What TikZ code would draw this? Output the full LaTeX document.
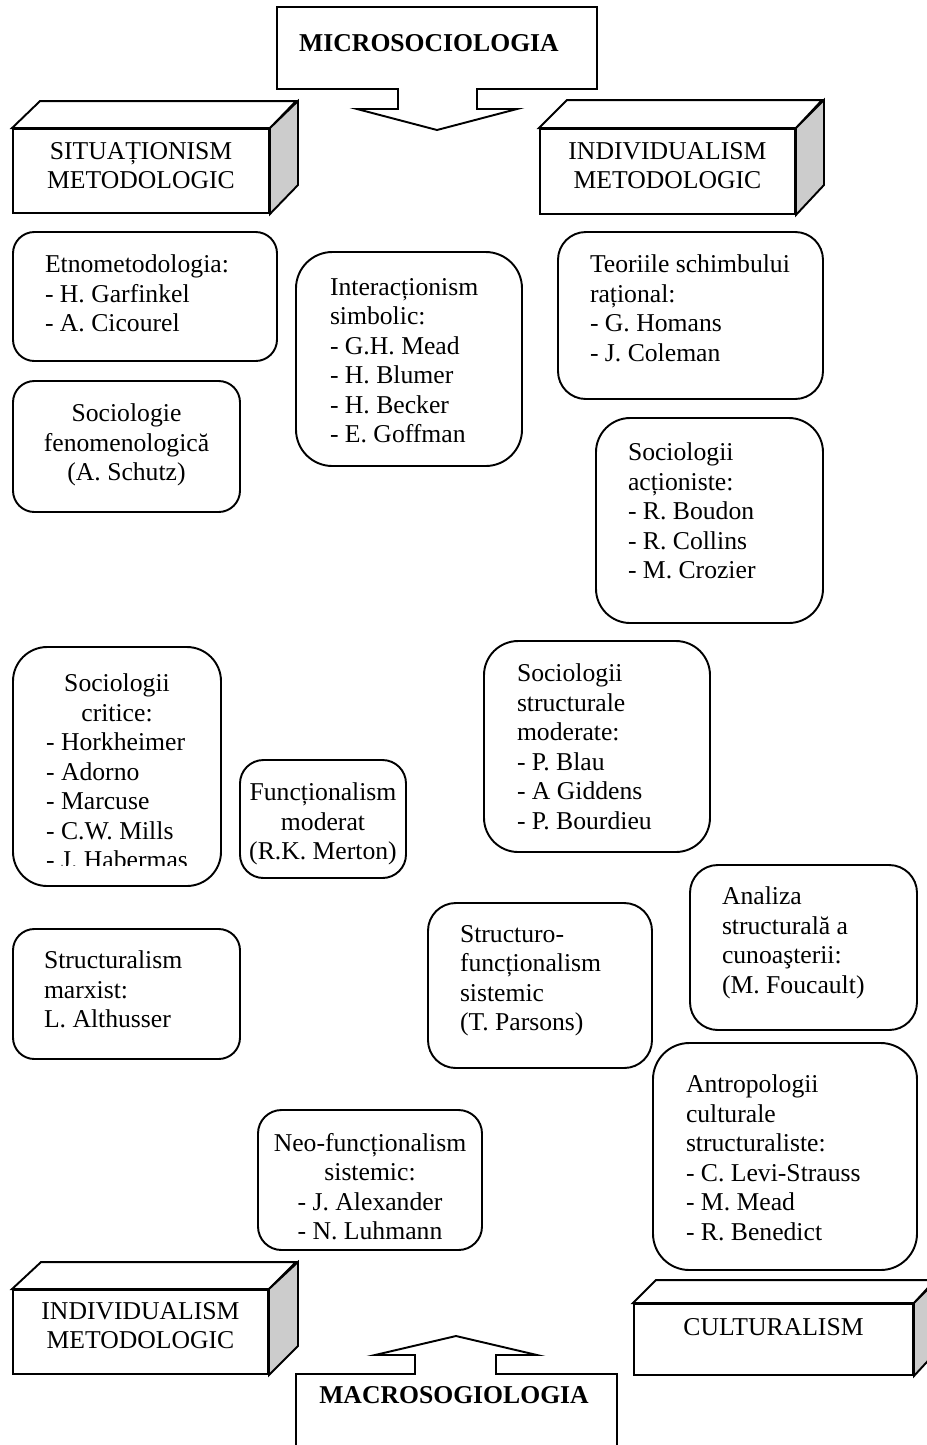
\documentclass[tikz,border=0pt]{standalone}
\usepackage{fontspec}
\setmainfont{Liberation Serif}
\usetikzlibrary{positioning, fit}

\newdimen\upx
\upx=0.4676pt
\newcommand{\boxfont}{\fontsize{12}{13.8}\selectfont}

\begin{document}
\begin{tikzpicture}[
    x=0.4676pt, y=-0.4676pt,
    line width=0.9pt,
    rbox/.style={draw, rounded corners=#1, inner sep=0pt},
    front/.style={draw, fill=white, inner sep=0pt},
    topface/.style={draw, fill=white},
    sideface/.style={draw, fill=black!20},
    callout/.style={draw, fill=white},
    txt/.style={inner sep=0pt, align=left, font=\boxfont},
    ctxt/.style={inner sep=0pt, align=center, font=\boxfont},
    title/.style={inner sep=0pt, font=\boxfont\bfseries}
]

    \useasboundingbox (0,0) rectangle (926,1445);

    % --- MICROSOCIOLOGIA ---
    \draw[callout] (277,7) -- (597,7) -- (597,89) -- (477,89) -- (477,109) -- (517,109)
        -- (437,130) -- (357,109) -- (398,109) -- (398,89) -- (277,89) -- cycle;
    \node[title] (micro) at (429,43) {MICROSOCIOLOGIA};

    % --- 3D boxes, top ---
    \node[front, fit={(13,129) (269,213)}] (sit) {};
    \draw[topface] (sit.north west) -- ++(28,-27) -- ++(256,0) -- (sit.north east) -- cycle;
    \draw[sideface] (sit.north east) -- ++(28,-27) -- ++(0,84) -- (sit.south east) -- cycle;
    \node[ctxt, below=13\upx of sit.north] (sitT) {SITUAȚIONISM\\METODOLOGIC};

    \node[front, fit={(540,129) (795,214)}] (indtop) {};
    \draw[topface] (indtop.north west) -- ++(28,-28) -- ++(255,0) -- (indtop.north east) -- cycle;
    \draw[sideface] (indtop.north east) -- ++(28,-28) -- ++(0,85) -- (indtop.south east) -- cycle;
    \node[ctxt, below=13\upx of indtop.north] (indtopT) {INDIVIDUALISM\\METODOLOGIC};

    % --- rounded boxes ---
    \node[rbox=10pt, fit={(13,232) (277,361)}] (etno) {};
    \node[txt, below right=23\upx and 32\upx of etno.north west] (etnoT)
        {Etnometodologia:\\- H. Garfinkel\\- A. Cicourel};

    \node[rbox=10pt, fit={(13,381) (240,512)}] (fenom) {};
    \node[ctxt, below=23\upx of fenom.north] (fenomT)
        {Sociologie\\fenomenologică\\(A. Schutz)};

    \node[rbox=17pt, fit={(296,252) (522,466)}] (inter) {};
    \node[txt, below right=26\upx and 34\upx of inter.north west] (interT)
        {Interacționism\\simbolic:\\- G.H. Mead\\- H. Blumer\\- H. Becker\\- E. Goffman};

    \node[rbox=13pt, fit={(558,232) (823,399)}] (teorii) {};
    \node[txt, below right=23\upx and 32\upx of teorii.north west] (teoriiT)
        {Teoriile schimbului\\rațional:\\- G. Homans\\- J. Coleman};

    \node[rbox=16pt, fit={(596,418) (823,623)}] (actio) {};
    \node[txt, below right=25\upx and 32\upx of actio.north west] (actioT)
        {Sociologii\\acționiste:\\- R. Boudon\\- R. Collins\\- M. Crozier};

    \node[rbox=16pt, fit={(13,647) (221,886)}] (critic) {};
    \begin{scope}
        \clip (13,647) rectangle (221,865);
        \node[ctxt, below=24\upx of critic.north] (criticT)
            {\begin{tabular}{@{}l@{}}
             \multicolumn{1}{@{}c@{}}{Sociologii}\\
             \multicolumn{1}{@{}c@{}}{critice:}\\
             - Horkheimer\\- Adorno\\- Marcuse\\- C.W. Mills\\- J. Habermas
             \end{tabular}};
    \end{scope}

    \node[rbox=11pt, fit={(240,760) (406,878)}] (functm) {};
    \node[ctxt, below=23\upx of functm.north] (functmT)
        {Funcționalism\\moderat\\(R.K. Merton)};

    \node[rbox=16pt, fit={(484,641) (710,852)}] (structm) {};
    \node[txt, below right=23\upx and 33\upx of structm.north west] (structmT)
        {Sociologii\\structurale\\moderate:\\- P. Blau\\- A Giddens\\- P. Bourdieu};

    \node[rbox=10pt, fit={(13,929) (240,1059)}] (marx) {};
    \node[txt, below right=22\upx and 31\upx of marx.north west] (marxT)
        {Structuralism\\marxist:\\L. Althusser};

    \node[rbox=13pt, fit={(428,903) (652,1068)}] (sfunc) {};
    \node[txt, below right=22\upx and 32\upx of sfunc.north west] (sfuncT)
        {Structuro-\\funcționalism\\sistemic\\(T. Parsons)};

    \node[rbox=13pt, fit={(690,865) (917,1030)}] (analiza) {};
    \node[txt, below right=22\upx and 32\upx of analiza.north west] (analizaT)
        {Analiza\\structurală a\\cunoaşterii:\\(M. Foucault)};

    \node[rbox=17pt, fit={(653,1043) (917,1270)}] (antrop) {};
    \node[txt, below right=32\upx and 33\upx of antrop.north west] (antropT)
        {Antropologii\\culturale\\structuraliste:\\- C. Levi-Strauss\\- M. Mead\\- R. Benedict};

    \node[rbox=11pt, fit={(258,1110) (482,1250)}] (neo) {};
    \node[ctxt, below=23\upx of neo.north] (neoT)
        {Neo-funcționalism\\sistemic:\\- J. Alexander\\- N. Luhmann};

    % --- 3D boxes, bottom ---
    \node[front, fit={(13,1290) (268,1374)}] (indbot) {};
    \draw[topface] (indbot.north west) -- ++(29,-27) -- ++(255,0) -- (indbot.north east) -- cycle;
    \draw[sideface] (indbot.north east) -- ++(29,-27) -- ++(0,84) -- (indbot.south east) -- cycle;
    \node[ctxt, below=12\upx of indbot.north] (indbotT) {INDIVIDUALISM\\METODOLOGIC};

    \node[front, fit={(634,1304) (913,1375)}] (cult) {};
    \draw[topface] (cult.north west) -- ++(23,-23) -- ++(279,0) -- (cult.north east) -- cycle;
    \draw[sideface] (cult.north east) -- ++(23,-23) -- ++(0,71) -- (cult.south east) -- cycle;
    \node[ctxt, below=14\upx of cult.north] (cultT) {CULTURALISM};

    % --- MACROSOGIOLOGIA ---
    \draw[callout] (296,1460) -- (296,1374) -- (415,1374) -- (415,1355) -- (375,1355)
        -- (456,1336) -- (537,1355) -- (496,1355) -- (496,1374) -- (617,1374) -- (617,1460);
    \node[title] (macro) at (454,1395) {MACROSOGIOLOGIA};

\end{tikzpicture}
\end{document}
